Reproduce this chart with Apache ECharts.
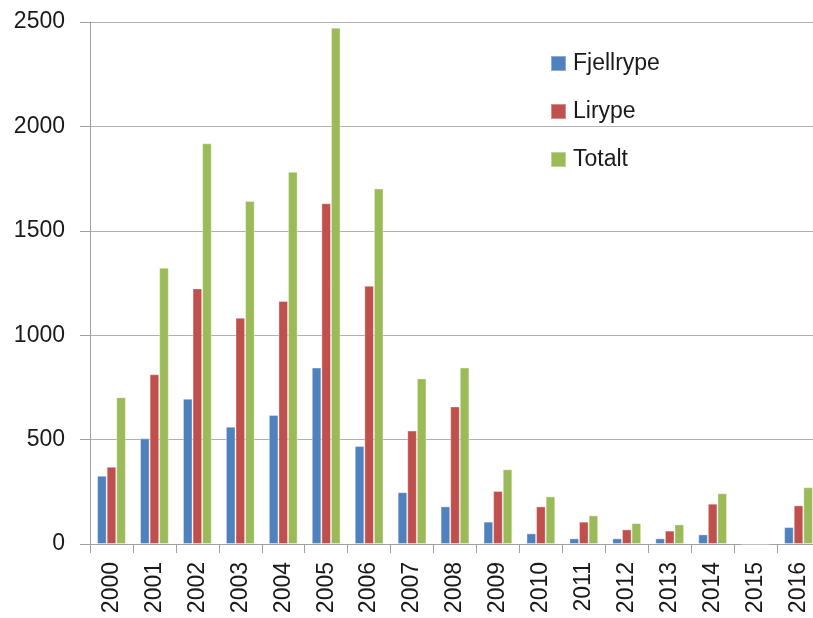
<!DOCTYPE html>
<html>
<head>
<meta charset="utf-8">
<script src="https://cdn.jsdelivr.net/npm/echarts@6/dist/echarts.min.js"></script>
<style>
  html, body { margin: 0; padding: 0; background: #fff; overflow: hidden; }
  #main { width: 820px; height: 618px; }
</style>
</head>
<body>
<div id="main"></div>
<script>
// år
var years = ['2000', '2001', '2002', '2003', '2004', '2005', '2006', '2007', '2008',
  '2009', '2010', '2011', '2012', '2013', '2014', '2015', '2016'];
var fjellrype = [327, 506, 696, 562, 618, 845, 469, 248, 180, 107, 51, 27, 27, 27, 46, 0, 81];
var lirype = [370, 813, 1224, 1084, 1164, 1632, 1237, 543, 659, 254, 180, 107, 70, 64, 193, 0, 185];
var totalt = [703, 1323, 1919, 1643, 1783, 2473, 1703, 793, 845, 358, 228, 137, 100, 94, 243, 0, 272];
var yTicks = [0, 500, 1000, 1500, 2000, 2500];

var font = 'Liberation Sans';
var chart = echarts.init(document.getElementById('main'));

function bar(name, data, color) {
  return {
    name: name,
    type: 'bar',
    data: data,
    barGap: '0%',
    barCategoryGap: '33%',
    itemStyle: { color: color, borderColor: 'rgba(255,255,255,0.35)', borderWidth: 1 },
    emphasis: { disabled: true }
  };
}

chart.setOption({
  animation: false,
  textStyle: { fontFamily: font },
  legend: {
    orient: 'vertical',
    left: 545,
    top: 47,
    itemWidth: 15,
    itemHeight: 15,
    itemGap: 25,
    icon: 'rect',
    textStyle: { fontFamily: font, fontSize: 23, color: '#1a1a1a', padding: [0, 0, 0, 2] },
    data: ['Fjellrype', 'Lirype', 'Totalt']
  },
  grid: { left: 90, right: 0, top: 22, bottom: 74 },
  xAxis: {
    type: 'category',
    data: years,
    axisLine: { lineStyle: { color: '#a0a0a0', width: 1 } },
    axisTick: { show: true, length: 9, lineStyle: { color: '#a0a0a0' } },
    axisLabel: {
      rotate: 90,
      margin: 18,
      fontFamily: font,
      fontSize: 23,
      color: '#1a1a1a'
    }
  },
  yAxis: {
    type: 'value',
    min: yTicks[0],
    max: yTicks[yTicks.length - 1],
    interval: 500,
    axisLine: { show: true, lineStyle: { color: '#a0a0a0', width: 1 } },
    axisTick: { show: true, length: 10, lineStyle: { color: '#a0a0a0' } },
    splitLine: { lineStyle: { color: '#b0b0b0', width: 1 } },
    axisLabel: {
      margin: 25,
      fontFamily: font,
      fontSize: 23,
      color: '#1a1a1a',
      formatter: function (v) { return String(v); }
    }
  },
  series: [
    bar('Fjellrype', fjellrype, '#4f81bd'),
    bar('Lirype', lirype, '#c0504d'),
    bar('Totalt', totalt, '#9bbb59')
  ]
});
</script>
</body>
</html>
